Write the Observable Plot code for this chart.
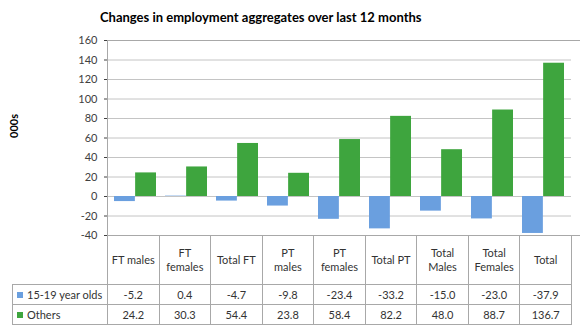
<!DOCTYPE html>
<html>
<head>
<meta charset="utf-8">
<script src="https://cdn.jsdelivr.net/npm/d3@7"></script>
<script src="https://cdn.jsdelivr.net/npm/@observablehq/plot@0.6"></script>
<style>
  html, body { margin: 0; padding: 0; background: #fff; overflow: hidden; }
  #wrap { position: relative; width: 580px; height: 336px; font-family: Lato, "Open Sans", sans-serif; }
  #title { position: absolute; top: 9px; left: 100px; font: bold 13px Lato, sans-serif; color: #000; white-space: nowrap; }
  #chart { position: absolute; top: 30px; left: 0; }
  #chart svg { overflow: hidden; }
  #tbl { position: absolute; top: 235px; left: 12px; border-collapse: collapse; table-layout: fixed; width: 560px;
         font: 11px Lato, sans-serif; color: #333; }
  #tbl td { border: 1px solid #a8a8a8; text-align: center; padding: 0; line-height: 14px; }
  #tbl tr.head td { height: 48px; white-space: pre-line; }
  #tbl tr.row td { height: 19px; }
  #tbl td.blank { border-top: none; border-left: none; }
  #tbl td.leg { text-align: left; padding-left: 4px; white-space: nowrap; }
  .sw { display: inline-block; width: 6px; height: 6px; margin-right: 4px; vertical-align: 1px; }
</style>
</head>
<body>
<div id="wrap">
  <div id="title"></div>
  <div id="chart"></div>
  <table id="tbl"></table>
</div>
<script>
const titleText = "Changes in employment aggregates over last 12 months";
const yLabel = "000s";
const categories = ["FT males","FT females","Total FT","PT males","PT females","Total PT","Total Males","Total Females","Total"];
const headerLabels = ["FT males","FT\nfemales","Total FT","PT\nmales","PT\nfemales","Total PT","Total\nMales","Total\nFemales","Total"];
const seriesNames = ["15-19 year olds","Others"];
const youth = [-5.2, 0.4, -4.7, -9.8, -23.4, -33.2, -15.0, -23.0, -37.9];
const others = [24.2, 30.3, 54.4, 23.8, 58.4, 82.2, 48.0, 88.7, 136.7];
const yTicks = [-40, -20, 0, 20, 40, 60, 80, 100, 120, 140, 160];
const colors = ["#6a9fdf", "#3ea53e"];

document.getElementById("title").textContent = titleText;

const W = 580, mL = 107, mR = 9;
const pIn = 0.18, pOut = 0.09;
const step = (W - mL - mR) / categories.length;
const half = step * (1 - pIn) / 2;

const youthData = categories.map((c, i) => ({cat: c, value: youth[i]}));
const othersData = categories.map((c, i) => ({cat: c, value: others[i]}));

const chart = Plot.plot({
  width: W, height: 216,
  marginLeft: mL, marginRight: mR, marginTop: 10, marginBottom: 11,
  style: {fontFamily: "Lato, sans-serif", fontSize: "11px", color: "#404040", background: "transparent"},
  x: {type: "band", domain: categories, paddingInner: pIn, paddingOuter: pOut, axis: null},
  y: {domain: [-40, 160], ticks: yTicks, tickFormat: d => String(d), tickSize: 3, tickPadding: 7, label: null},
  marks: [
    Plot.ruleY(yTicks, {stroke: "#c4c4c4"}),
    Plot.frame({stroke: "#a8a8a8", insetRight: -30}),
    Plot.barY(youthData, {x: "cat", y: "value", fill: colors[0], insetRight: half}),
    Plot.barY(othersData, {x: "cat", y: "value", fill: colors[1], insetLeft: half}),
    Plot.text([yLabel], {frameAnchor: "left", rotate: -90, dx: -93, fontWeight: "bold", fill: "#000", fontSize: 11})
  ]
});
document.getElementById("chart").appendChild(chart);

// data table below the chart
const tbl = document.getElementById("tbl");
const colg = document.createElement("colgroup");
const c0 = document.createElement("col"); c0.style.width = (mL - 12) + "px"; colg.appendChild(c0);
categories.forEach(() => { const c = document.createElement("col"); c.style.width = step + "px"; colg.appendChild(c); });
tbl.appendChild(colg);
const head = document.createElement("tr"); head.className = "head";
const b = document.createElement("td"); b.className = "blank"; head.appendChild(b);
headerLabels.forEach(h => { const td = document.createElement("td"); td.textContent = h; head.appendChild(td); });
tbl.appendChild(head);
[youth, others].forEach((vals, s) => {
  const tr = document.createElement("tr"); tr.className = "row";
  const lg = document.createElement("td"); lg.className = "leg";
  const sw = document.createElement("span"); sw.className = "sw"; sw.style.background = colors[s];
  lg.appendChild(sw); lg.appendChild(document.createTextNode(seriesNames[s]));
  tr.appendChild(lg);
  vals.forEach(v => { const td = document.createElement("td"); td.textContent = v.toFixed(1); tr.appendChild(td); });
  tbl.appendChild(tr);
});
</script>
</body>
</html>
